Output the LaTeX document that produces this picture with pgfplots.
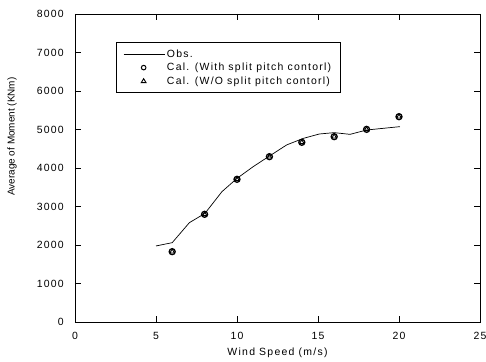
\documentclass[border=0pt]{standalone}
\usepackage{fontspec}
\setmainfont[LetterSpace=12]{Liberation Sans}
\newfontfamily\plainfont{Liberation Sans}
\usepackage{pgfplots}
\pgfplotsset{compat=1.18}
\begin{document}
\fontsize{10.5}{12.5}\selectfont
\begin{tikzpicture}
\begin{axis}[
  name=ax,
  scale only axis,
  width=405bp, height=308bp,
  xmin=0, xmax=25, ymin=0, ymax=8000,
  xtick={0,5,10,15,20,25},
  ytick={0,1000,2000,3000,4000,5000,6000,7000,8000},
  tick align=inside,
  major tick length=6bp,
  axis line style={line width=0.8bp},
  tick style={line width=0.8bp, black},
  /pgf/number format/assume math mode=true,
  /pgf/number format/set thousands separator={},
  tick label style={font=\fontsize{10.5}{12.5}\selectfont},
  xticklabel style={yshift=-6.5bp},
  yticklabel style={xshift=-7.5bp},
  xlabel={Wind Speed (m/s)},
  ylabel={Average of Moment (KNm)},
  xlabel style={font=\fontsize{10.5}{12.5}\selectfont, at={(axis description cs:0.5,0)}, anchor=center, yshift=-31bp},
  ylabel style={font=\plainfont\fontsize{10}{12}\selectfont, at={([xshift=-63bp]axis description cs:0,0.602)}, anchor=center},
  scaled y ticks=false,
  legend cell align=left,
  legend style={at={(0.101,0.909)}, anchor=north west, draw=black, line width=0.8bp,
    font=\fontsize{10.5}{12.5}\selectfont, inner xsep=7bp, inner ysep=5bp, row sep=0.5bp,
    /tikz/every even column/.append style={column sep=0bp}},
]
\addplot[black, line width=0.7bp, legend image code/.code={\draw[black,line width=0.7bp] (0bp,0bp) -- (41bp,0bp);}] coordinates {
(5,1975) (6,2060) (7.06,2580) (8.02,2820) (9.07,3385) (10,3730) (11,4035) (12,4310)
(13.07,4600) (14.1,4770) (15.08,4883) (16,4918) (16.98,4874) (18,4987) (20.06,5074)
};
\addlegendentry{Obs.}
\addplot[only marks, mark=o, mark size=3bp, black, line width=1.3bp,
  legend image code/.code={\draw[black,line width=1bp] (20bp,0bp) circle (2.3bp);}] coordinates {
(6,1827) (8,2797) (10,3706) (12,4294) (14,4667) (16,4814) (18,5004) (20,5333)
};
\addlegendentry{Cal. (With split pitch contorl)}
\addplot[only marks, mark=triangle, mark size=2.6bp, black, line width=0.9bp,
  legend image code/.code={\draw[black,line width=0.9bp] (20bp,0bp) ++(0,2.6bp) -- ++(-2.4bp,-4bp) -- ++(4.8bp,0) -- cycle;}] coordinates {
(6,1827) (8,2797) (10,3706) (12,4294) (14,4667) (16,4814) (18,5004) (20,5333)
};
\addlegendentry{Cal. (W/O split pitch contorl)}
\end{axis}
\pgfresetboundingbox
\useasboundingbox ([xshift=-75bp,yshift=-40bp]ax.south west) rectangle ([xshift=6bp,yshift=14bp]ax.north east);
\end{tikzpicture}
\end{document}
